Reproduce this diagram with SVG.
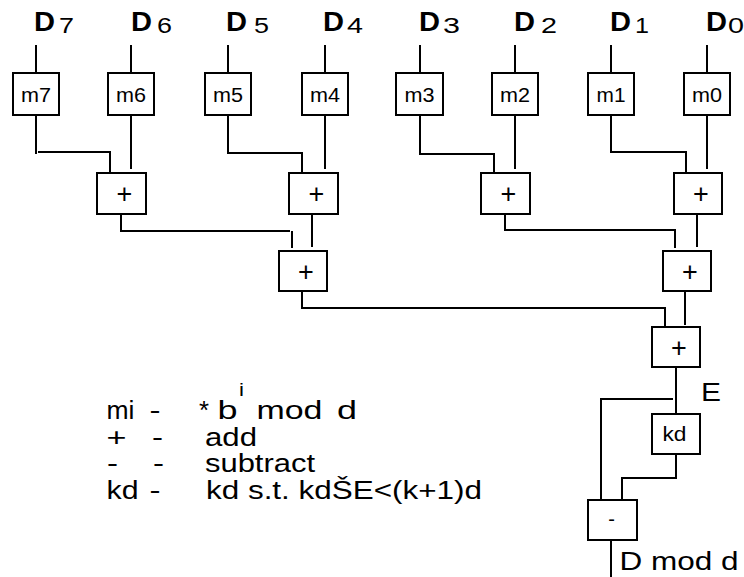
<svg xmlns="http://www.w3.org/2000/svg" width="744" height="577" viewBox="0 0 744 577">
  <style>
    .box { fill: #fff; stroke: #000; stroke-width: 2; }
    .wire { fill: none; stroke: #000; stroke-width: 2; stroke-linecap: butt; }
    text { font-family: "Liberation Sans", Arial, sans-serif; fill: #000; }
    .dig { font-size: 27px; font-weight: bold; }
    .sub { font-size: 22px; }
    .blab { font-size: 20px; text-anchor: middle; }
    .op { font-size: 27px; text-anchor: middle; }
    .leg { font-size: 25px; }
    .out { font-size: 25px; }
  </style>

  <rect width="744" height="577" fill="#fff"/>

  <!-- connectors -->
  <g id="connectors" class="wire">
    <!-- inputs into the multiplier boxes -->
    <path d="M36 45V73 M131 45V73 M228 45V73 M325 45V73 M420 45V73 M515 45V73 M611 45V73 M707 45V73"/>
    <!-- multipliers into first adder row -->
    <path d="M36 115V154 M38 152H111 M110 152V173 M131 115V169"/>
    <path d="M228 115V154 M228 153H303 M302 153V173 M325 115V169"/>
    <path d="M420 115V155 M420 154H495 M494 154V173 M515 115V169"/>
    <path d="M611 115V153 M611 152H687 M686 152V173 M707 115V169"/>
    <!-- first adder row into second -->
    <path d="M121 214V232 M121 231H290 M292 231V248 M312 214V247"/>
    <path d="M505 214V231 M505 230H676 M675 230V248 M697 214V247"/>
    <!-- second adder row into final adder -->
    <path d="M302 291V309 M302 308H666 M665 308V327 M685 291V325"/>
    <!-- reduction stage -->
    <path d="M676 367V413"/>
    <path d="M600 399H673 M601 398V499"/>
    <path d="M676 454V479 M621 478H677 M622 477V500"/>
    <path d="M611 540V577"/>
  </g>

  <!-- input labels -->
  <g id="inputs">
    <text class="dig" x="34" y="31" textLength="21" lengthAdjust="spacingAndGlyphs">D</text><text class="sub" x="59" y="33" textLength="15" lengthAdjust="spacingAndGlyphs">7</text>
    <text class="dig" x="131" y="31" textLength="21" lengthAdjust="spacingAndGlyphs">D</text><text class="sub" x="157" y="33" textLength="15" lengthAdjust="spacingAndGlyphs">6</text>
    <text class="dig" x="226" y="31" textLength="21" lengthAdjust="spacingAndGlyphs">D</text><text class="sub" x="254" y="33" textLength="15" lengthAdjust="spacingAndGlyphs">5</text>
    <text class="dig" x="323" y="31" textLength="21" lengthAdjust="spacingAndGlyphs">D</text><text class="sub" x="347" y="33" textLength="16" lengthAdjust="spacingAndGlyphs">4</text>
    <text class="dig" x="419" y="31" textLength="21" lengthAdjust="spacingAndGlyphs">D</text><text class="sub" x="443" y="33" textLength="17" lengthAdjust="spacingAndGlyphs">3</text>
    <text class="dig" x="514" y="31" textLength="21" lengthAdjust="spacingAndGlyphs">D</text><text class="sub" x="541" y="33" textLength="16" lengthAdjust="spacingAndGlyphs">2</text>
    <text class="dig" x="610" y="31" textLength="21" lengthAdjust="spacingAndGlyphs">D</text><text class="sub" x="635" y="33" textLength="14" lengthAdjust="spacingAndGlyphs">1</text>
    <text class="dig" x="706" y="31" textLength="21" lengthAdjust="spacingAndGlyphs">D</text><text class="sub" x="728" y="33" textLength="16" lengthAdjust="spacingAndGlyphs">0</text>
  </g>

  <!-- multiplier boxes: mi = Di * b^i mod d -->
  <g id="m7"><rect class="box" x="13" y="73" width="46" height="42"/><text class="blab" x="36" y="101.5" textLength="30" lengthAdjust="spacingAndGlyphs">m7</text></g>
  <g id="m6"><rect class="box" x="108" y="73" width="46" height="42"/><text class="blab" x="131" y="101.5" textLength="30" lengthAdjust="spacingAndGlyphs">m6</text></g>
  <g id="m5"><rect class="box" x="205" y="73" width="46" height="42"/><text class="blab" x="228" y="101.5" textLength="30" lengthAdjust="spacingAndGlyphs">m5</text></g>
  <g id="m4"><rect class="box" x="302" y="73" width="46" height="42"/><text class="blab" x="325" y="101.5" textLength="30" lengthAdjust="spacingAndGlyphs">m4</text></g>
  <g id="m3"><rect class="box" x="396" y="73" width="47" height="42"/><text class="blab" x="419.5" y="101.5" textLength="30" lengthAdjust="spacingAndGlyphs">m3</text></g>
  <g id="m2"><rect class="box" x="492" y="73" width="46" height="42"/><text class="blab" x="515" y="101.5" textLength="30" lengthAdjust="spacingAndGlyphs">m2</text></g>
  <g id="m1"><rect class="box" x="588" y="73" width="46" height="42"/><text class="blab" x="611" y="101.5" textLength="29" lengthAdjust="spacingAndGlyphs">m1</text></g>
  <g id="m0"><rect class="box" x="684" y="73" width="46" height="42"/><text class="blab" x="707" y="101.5" textLength="30" lengthAdjust="spacingAndGlyphs">m0</text></g>

  <!-- adder tree -->
  <g id="add76"><rect class="box" x="97" y="173" width="49" height="41"/><text class="op" x="124.5" y="203">+</text></g>
  <g id="add54"><rect class="box" x="289" y="173" width="49" height="41"/><text class="op" x="316.5" y="203">+</text></g>
  <g id="add32"><rect class="box" x="481" y="173" width="49" height="41"/><text class="op" x="508.5" y="203">+</text></g>
  <g id="add10"><rect class="box" x="674" y="173" width="48" height="41"/><text class="op" x="701" y="203">+</text></g>
  <g id="add7654"><rect class="box" x="279" y="251" width="48" height="40"/><text class="op" x="306" y="280.5">+</text></g>
  <g id="add3210"><rect class="box" x="663" y="251" width="48" height="40"/><text class="op" x="690" y="280.5">+</text></g>
  <g id="addAll"><rect class="box" x="652" y="327" width="48" height="40"/><text class="op" x="679" y="356.5">+</text></g>

  <!-- reduction: E - kd -->
  <g id="kd"><rect class="box" x="652" y="414" width="48" height="40"/><text class="blab" x="674.5" y="440.5" textLength="24" lengthAdjust="spacingAndGlyphs">kd</text></g>
  <g id="sub"><rect class="box" x="588" y="500" width="49" height="40"/><text class="blab" x="611.5" y="526" font-size="22">-</text></g>

  <!-- signal labels -->
  <g id="labels">
    <text class="out" x="701" y="401" textLength="20" lengthAdjust="spacingAndGlyphs">E</text>
    <text class="out" x="619.5" y="570" textLength="119" lengthAdjust="spacingAndGlyphs">D mod d</text>
  </g>

  <!-- legend -->
  <g id="legend">
    <text class="leg" x="106.5" y="419" textLength="28" lengthAdjust="spacingAndGlyphs">mi</text>
    <text class="leg" x="149.5" y="419" textLength="11" lengthAdjust="spacingAndGlyphs">-</text>
    <text class="leg" x="199" y="419" textLength="10" lengthAdjust="spacingAndGlyphs">*</text>
    <text class="leg" x="217.5" y="419" textLength="20" lengthAdjust="spacingAndGlyphs">b</text>
    <text x="239" y="396" font-size="19" textLength="5" lengthAdjust="spacingAndGlyphs">i</text>
    <text class="leg" x="256.5" y="419" textLength="66" lengthAdjust="spacingAndGlyphs">mod</text>
    <text class="leg" x="337" y="419" textLength="20" lengthAdjust="spacingAndGlyphs">d</text>

    <text class="leg" x="106.5" y="446" textLength="20" lengthAdjust="spacingAndGlyphs">+</text>
    <text class="leg" x="152" y="446" textLength="11" lengthAdjust="spacingAndGlyphs">-</text>
    <text class="leg" x="205" y="446" textLength="52" lengthAdjust="spacingAndGlyphs">add</text>

    <text class="leg" x="107" y="472" textLength="11" lengthAdjust="spacingAndGlyphs">-</text>
    <text class="leg" x="153" y="472" textLength="11" lengthAdjust="spacingAndGlyphs">-</text>
    <text class="leg" x="205" y="472" textLength="110" lengthAdjust="spacingAndGlyphs">subtract</text>

    <text class="leg" x="106.5" y="499" textLength="32" lengthAdjust="spacingAndGlyphs">kd</text>
    <text class="leg" x="149.5" y="499" textLength="11" lengthAdjust="spacingAndGlyphs">-</text>
    <text class="leg" x="206" y="499" textLength="276" lengthAdjust="spacingAndGlyphs">kd s.t. kdŠE&lt;(k+1)d</text>
  </g>
</svg>
